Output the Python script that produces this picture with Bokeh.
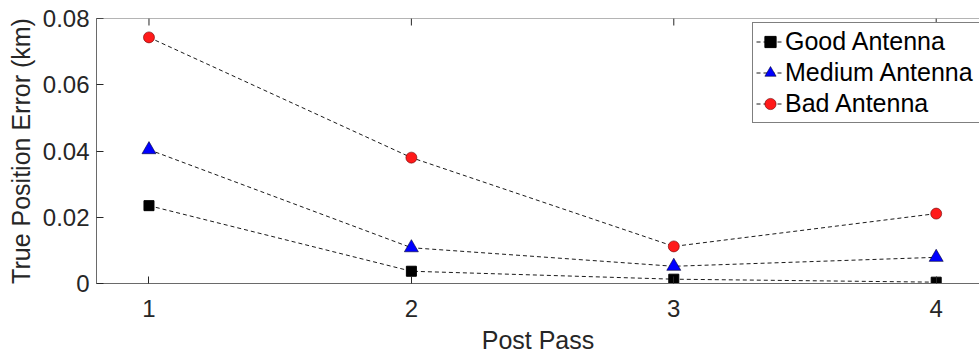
import math
from bokeh.plotting import figure
from bokeh.models import (Range1d, FixedTicker, Legend, LegendItem, Span)
from bokeh.embed import file_html
from bokeh.resources import INLINE

# ---- data ----
passes = [1, 2, 3, 4]
good = [0.0235, 0.0037, 0.0013, 0.0004]
medium = [0.0404, 0.0108, 0.0052, 0.0079]
bad = [0.0743, 0.0380, 0.0112, 0.0211]
series_names = ["Good Antenna", "Medium Antenna", "Bad Antenna"]
x_ticks = [1, 2, 3, 4]
y_ticks = [0, 0.02, 0.04, 0.06, 0.08]
y_tick_labels = ["0", "0.02", "0.04", "0.06", "0.08"]
x_lim = (0.8, 4.165)
y_lim = (0, 0.08)

FONT = "Liberation Sans"
TXT = "#262626"
LINE = "#6a6a6a"

p = figure(frame_width=883, frame_height=265, output_backend="svg",
           toolbar_location=None,
           x_range=Range1d(*x_lim), y_range=Range1d(*y_lim),
           min_border_left=96, min_border_top=18, min_border_bottom=69,
           min_border_right=0, x_axis_label="Post Pass",
           y_axis_label="True Position Error (km)")
p.background_fill_color = "white"
p.border_fill_color = "white"
p.outline_line_color = None
p.grid.visible = False

for ax in (p.xaxis[0], p.yaxis[0]):
    ax.major_tick_in = 7
    ax.major_tick_out = 0
    ax.minor_tick_line_color = None
    ax.axis_line_color = LINE
    ax.major_tick_line_color = TXT
    ax.major_label_text_color = TXT
    ax.axis_label_text_color = TXT
    ax.major_label_text_font = FONT
    ax.axis_label_text_font = FONT
    ax.major_label_text_font_size = "24px"
    ax.axis_label_text_font_size = "25px"
    ax.axis_label_text_font_style = "normal"

p.xaxis.ticker = FixedTicker(ticks=x_ticks)
p.yaxis.ticker = FixedTicker(ticks=y_ticks)
p.yaxis.major_label_overrides = {t: s for t, s in zip(y_ticks, y_tick_labels)}
p.xaxis.major_label_standoff = 16
p.xaxis.axis_label_standoff = 6
p.yaxis.major_label_standoff = 7
p.yaxis.axis_label_standoff = 5

# top box edge with inward ticks
p.add_layout(Span(location=y_lim[1], dimension="width", line_color=LINE,
                  line_width=1))
p.scatter(x_ticks, [y_lim[1]] * len(x_ticks), marker="dash", angle=math.pi / 2,
          size=14, line_color=TXT, line_width=1)

common = dict(line_color="black", line_width=0.9, line_dash="4 3")
lg = p.line(passes, good, **common)
sg = p.scatter(passes, good, marker="square", size=10, fill_color="black",
               line_color="black")
lm = p.line(passes, medium, **common)
sm = p.scatter(passes, medium, marker="triangle", size=14, fill_color="#0000ff",
               line_color="#000033", line_width=0.6)
lb = p.line(passes, bad, **common)
sb = p.scatter(passes, bad, marker="circle", size=11, fill_color="#ff1a1a",
               line_color="#6b0000", line_width=0.6)

legend = Legend(items=[
    LegendItem(label=series_names[0], renderers=[lg, sg]),
    LegendItem(label=series_names[1], renderers=[lm, sm]),
    LegendItem(label=series_names[2], renderers=[lb, sb]),
], location=(656, 160))
legend.label_text_font = FONT
legend.label_text_font_size = "25px"
legend.label_text_color = "black"
legend.glyph_width = 28
legend.glyph_height = 31
legend.label_height = 31
legend.label_width = 205
legend.label_standoff = 1
legend.padding = 3
legend.spacing = 0
legend.margin = 0
legend.border_line_color = "black"
legend.border_line_width = 1
legend.background_fill_color = "white"
legend.background_fill_alpha = 1
p.add_layout(legend, "center")

open("out.html", "w").write(file_html(p, INLINE))
